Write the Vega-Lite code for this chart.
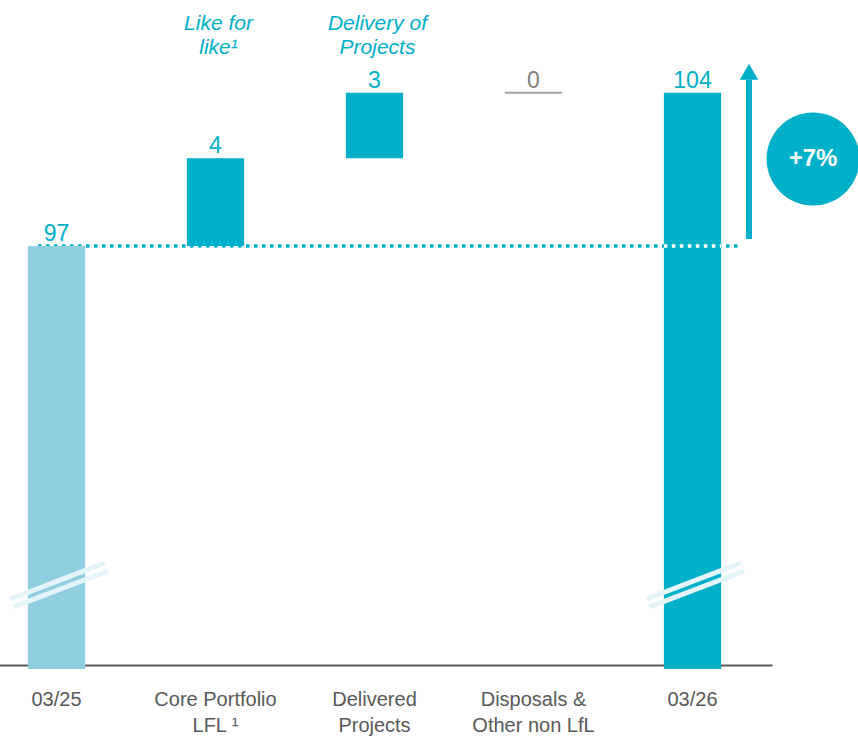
{
  "$schema": "https://vega.github.io/schema/vega-lite/v6.json",
  "width": 858,
  "height": 669,
  "autosize": {"type": "none"},
  "padding": {"left": 0, "top": 0, "right": 0, "bottom": 69},
  "background": "#ffffff",
  "config": {
    "view": {"stroke": null},
    "font": "Liberation Sans"
  },
  "datasets": {
    "steps": [
      {"cat": "03/25", "start": 0, "end": 97, "kind": "prev", "label": "97"},
      {"cat": "Core Portfolio|LFL ¹", "start": 97, "end": 101, "kind": "delta", "label": "4"},
      {"cat": "Delivered|Projects", "start": 101, "end": 104, "kind": "delta", "label": "3"},
      {"cat": "Disposals &|Other non LfL", "start": 104, "end": 104, "kind": "zero", "label": "0"},
      {"cat": "03/26", "start": 0, "end": 104, "kind": "cur", "label": "104"}
    ],
    "reference": [
      {"from": "03/25", "to": "03/26", "value": 97}
    ],
    "breaks": [
      {"cat": "03/25", "line": "upper", "y0": 80.88, "y1": 82.53},
      {"cat": "03/25", "line": "lower", "y0": 80.52, "y1": 82.16},
      {"cat": "03/26", "line": "upper", "y0": 80.88, "y1": 82.53},
      {"cat": "03/26", "line": "lower", "y0": 80.52, "y1": 82.16}
    ],
    "notes": [
      {"cat": "Core Portfolio|LFL ¹", "note": ["Like for", "like¹"], "y": 106.86},
      {"cat": "Delivered|Projects", "note": ["Delivery of", "Projects"], "y": 106.86}
    ],
    "growth": [
      {"cat": "03/26", "from": 97.32, "to": 104.6, "tip": 104.95, "mid": 100.97, "text": "+7%"}
    ]
  },
  "layer": [
    {
      "data": {"name": "reference"},
      "mark": {"type": "rule", "color": "#00AFC8", "strokeWidth": 3.5, "strokeDash": [3.5, 4.5], "strokeCap": "butt"},
      "encoding": {
        "x": {
          "field": "from", "type": "nominal", "bandPosition": 0.177,
          "scale": {
            "type": "band",
            "domain": ["03/25", "Core Portfolio|LFL ¹", "Delivered|Projects", "Disposals &|Other non LfL", "03/26"],
            "range": [-23, 772],
            "paddingInner": 0.64,
            "paddingOuter": 0.32
          },
          "axis": {
            "title": null,
            "labelAngle": 0,
            "ticks": false,
            "offset": -4,
            "domainColor": "#595959",
            "domainWidth": 2,
            "labelColor": "#595959",
            "labelFont": "Liberation Sans",
            "labelFontSize": 20,
            "labelLineHeight": 26,
            "labelPadding": 24,
            "labelLimit": 0,
            "labelExpr": "split(datum.label, '|')"
          }
        },
        "x2": {"field": "to", "bandPosition": 1.312},
        "y": {
          "field": "value", "type": "quantitative",
          "scale": {"domain": [77.685, 108.23], "zero": false, "nice": false, "clamp": true},
          "axis": null
        }
      }
    },
    {
      "data": {"name": "steps"},
      "transform": [{"filter": "datum.kind !== 'zero'"}],
      "mark": {"type": "bar"},
      "encoding": {
        "x": {"field": "cat", "type": "nominal"},
        "y": {"field": "start", "type": "quantitative"},
        "y2": {"field": "end"},
        "color": {
          "condition": {"test": "datum.kind === 'prev'", "value": "#90CFE0"},
          "value": "#00AFC8"
        }
      }
    },
    {
      "data": {"name": "reference"},
      "mark": {"type": "rule", "color": "#ffffff", "strokeWidth": 3.5, "strokeDash": [3.5, 4.5], "strokeCap": "butt"},
      "encoding": {
        "x": {"field": "to", "type": "nominal", "bandPosition": 0},
        "x2": {"field": "to", "bandPosition": 1},
        "y": {"field": "value", "type": "quantitative"}
      }
    },
    {
      "data": {"name": "steps"},
      "transform": [{"filter": "datum.kind === 'zero'"}],
      "mark": {"type": "rule", "color": "#A6A6A6", "strokeWidth": 2},
      "encoding": {
        "x": {"field": "cat", "type": "nominal", "bandPosition": 0},
        "x2": {"field": "cat", "bandPosition": 1},
        "y": {"field": "end", "type": "quantitative"}
      }
    },
    {
      "data": {"name": "breaks"},
      "transform": [{"filter": "datum.line === 'upper'"}],
      "mark": {"type": "rule", "color": "#E4F4F8", "strokeWidth": 5},
      "encoding": {
        "x": {"field": "cat", "type": "nominal", "bandPosition": -0.3},
        "x2": {"field": "cat", "bandPosition": 1.347},
        "y": {"field": "y0", "type": "quantitative"},
        "y2": {"field": "y1"}
      }
    },
    {
      "data": {"name": "breaks"},
      "transform": [{"filter": "datum.line === 'lower'"}],
      "mark": {"type": "rule", "color": "#E4F4F8", "strokeWidth": 5},
      "encoding": {
        "x": {"field": "cat", "type": "nominal", "bandPosition": -0.25},
        "x2": {"field": "cat", "bandPosition": 1.4},
        "y": {"field": "y0", "type": "quantitative"},
        "y2": {"field": "y1"}
      }
    },
    {
      "data": {"name": "steps"},
      "mark": {"type": "text", "fontSize": 23, "baseline": "alphabetic", "align": "center", "dy": -5},
      "encoding": {
        "x": {"field": "cat", "type": "nominal", "bandPosition": 0.5},
        "y": {"field": "end", "type": "quantitative"},
        "text": {"field": "label"},
        "color": {
          "condition": {"test": "datum.kind === 'zero'", "value": "#7F7F7F"},
          "value": "#00AFC8"
        }
      }
    },
    {
      "data": {"name": "notes"},
      "mark": {"type": "text", "fontSize": 21, "fontStyle": "italic", "color": "#00AFC8", "baseline": "alphabetic", "align": "center", "lineHeight": 24, "dx": 3},
      "encoding": {
        "x": {"field": "cat", "type": "nominal", "bandPosition": 0.5},
        "y": {"field": "y", "type": "quantitative"},
        "text": {"field": "note"}
      }
    },
    {
      "data": {"name": "growth"},
      "mark": {"type": "rule", "color": "#00AFC8", "strokeWidth": 6},
      "encoding": {
        "x": {"field": "cat", "type": "nominal", "bandPosition": 1.487},
        "y": {"field": "from", "type": "quantitative"},
        "y2": {"field": "to"}
      }
    },
    {
      "data": {"name": "growth"},
      "mark": {"type": "point", "shape": "triangle-up", "filled": true, "color": "#00AFC8", "size": 340, "opacity": 1},
      "encoding": {
        "x": {"field": "cat", "type": "nominal", "bandPosition": 1.487},
        "y": {"field": "tip", "type": "quantitative"}
      }
    },
    {
      "data": {"name": "growth"},
      "mark": {"type": "point", "shape": "circle", "filled": true, "color": "#00AFC8", "size": 8649, "opacity": 1},
      "encoding": {
        "x": {"field": "cat", "type": "nominal", "bandPosition": 2.606},
        "y": {"field": "mid", "type": "quantitative"}
      }
    },
    {
      "data": {"name": "growth"},
      "mark": {"type": "text", "fontSize": 24, "fontWeight": "bold", "color": "#ffffff", "baseline": "middle", "align": "center"},
      "encoding": {
        "x": {"field": "cat", "type": "nominal", "bandPosition": 2.606},
        "y": {"field": "mid", "type": "quantitative"},
        "text": {"field": "text"}
      }
    }
  ]
}
